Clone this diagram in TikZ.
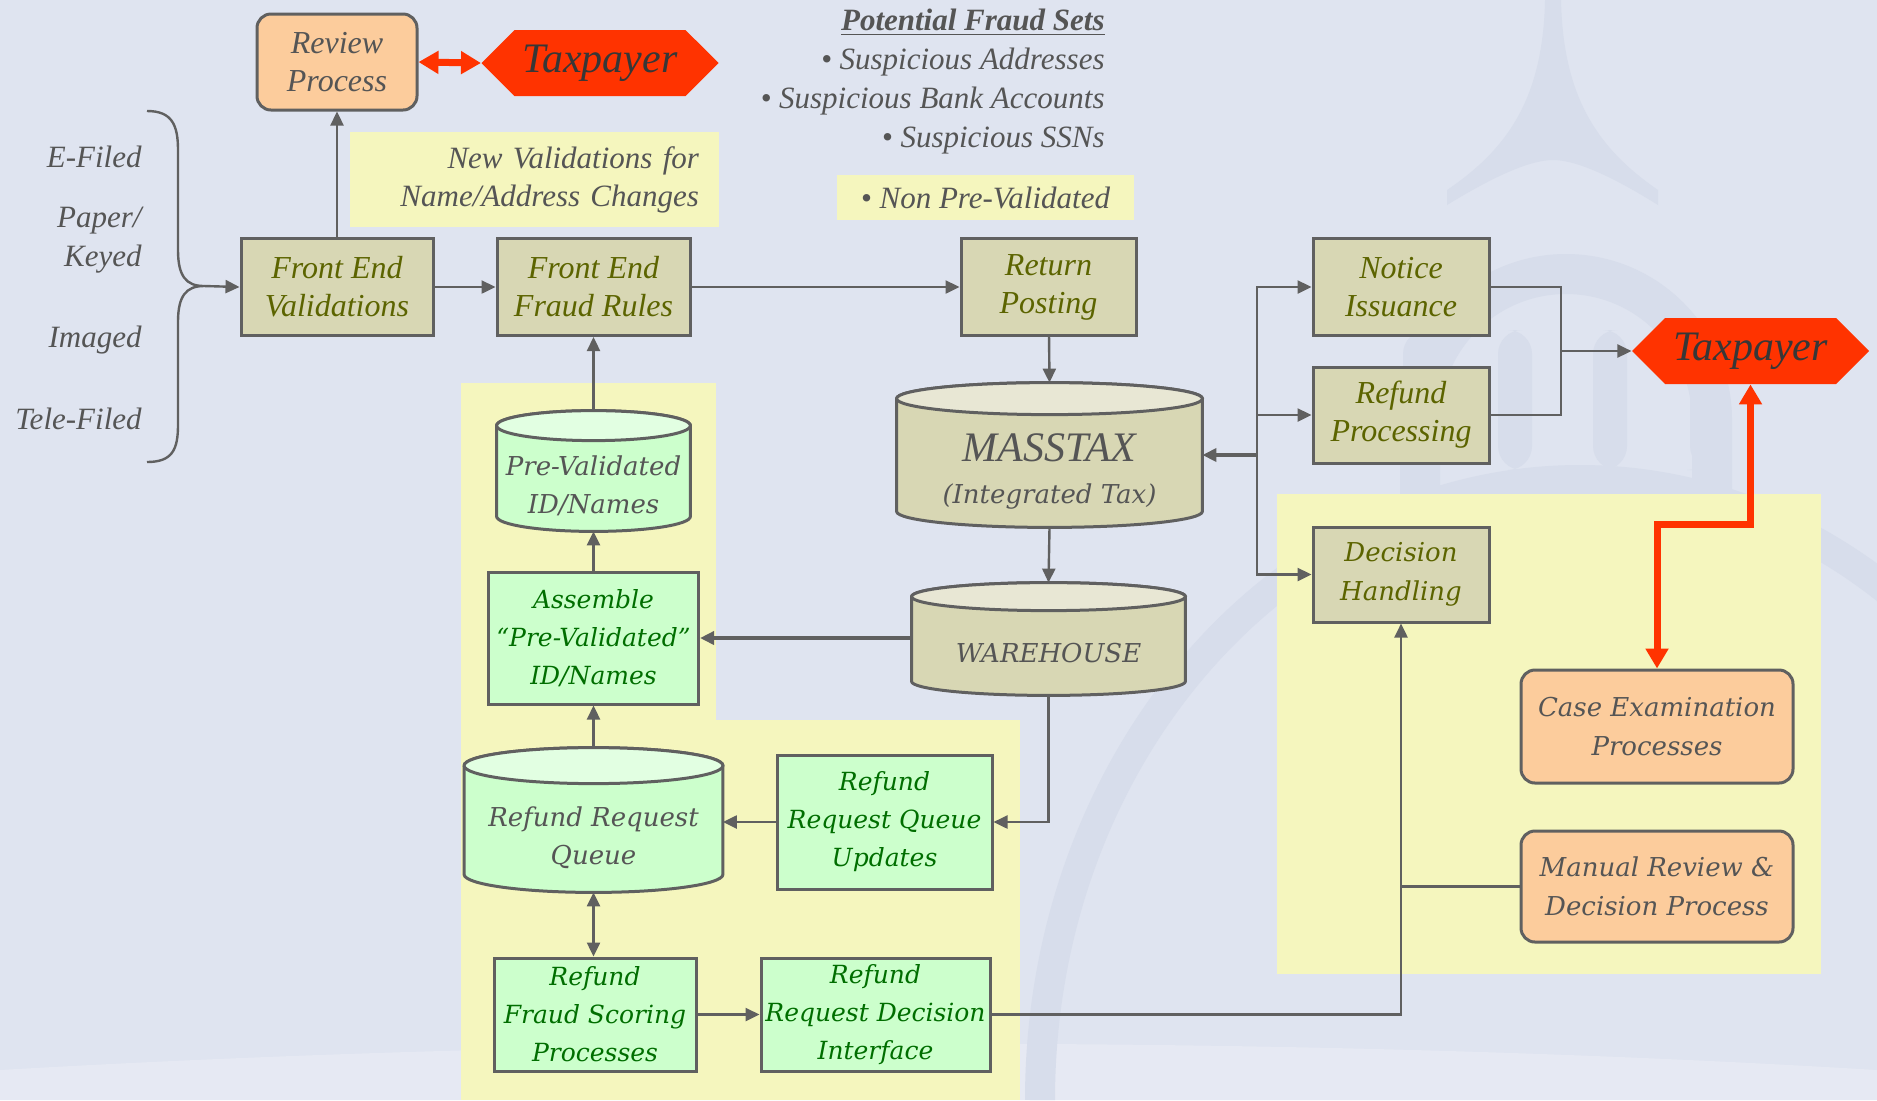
\documentclass[tikz,border=0pt]{standalone}
\usepackage{fontspec}
\setmainfont{Liberation Serif}
\newfontfamily\wide{DejaVu Serif}
\usetikzlibrary{arrows.meta, shapes.symbols, calc}
\pgfdeclarelayer{back}
\pgfdeclarelayer{shapes}
\pgfsetlayers{back,shapes,main}
\definecolor{bgcol}{RGB}{223,228,240}
\definecolor{wmcol}{RGB}{215,221,235}
\definecolor{wmlight}{RGB}{230,233,243}
\definecolor{linegray}{RGB}{96,96,96}
\definecolor{textgray}{RGB}{85,85,85}
\definecolor{olivefill}{RGB}{216,215,180}
\definecolor{olivetop}{RGB}{232,231,212}
\definecolor{olivetext}{RGB}{92,100,0}
\definecolor{greenfill}{RGB}{204,255,204}
\definecolor{greentop}{RGB}{226,255,226}
\definecolor{greentext}{RGB}{0,110,0}
\definecolor{orangefill}{RGB}{252,204,156}
\definecolor{taxred}{RGB}{255,51,0}
\definecolor{yellowfill}{RGB}{245,246,190}
\newcommand{\cylshape}[4]{%
  \begin{pgfonlayer}{shapes}
  \draw[draw=linegray, line width=1.5pt, fill=#3] let \p1=(#1.north west), \p2=(#1.south east), \n1={(\x2-\x1)/2} in
    (\x1,\y1+#2) -- (\x1,\y2+#2) arc[start angle=180, end angle=360, x radius=\n1, y radius=#2]
    -- (\x2,\y1+#2) arc[start angle=0, end angle=180, x radius=\n1, y radius=#2] -- cycle;
  \draw[draw=linegray, line width=1.5pt, fill=#4] let \p1=(#1.north west), \p2=(#1.south east), \n1={(\x2-\x1)/2} in
    (\x1,\y1+#2) arc[start angle=180, end angle=-180, x radius=\n1, y radius=#2];
  \end{pgfonlayer}}
\begin{document}
\begin{tikzpicture}[x=0.5pt, y=0.5pt]
  \tikzstyle{every node}+=[inner sep=0pt]
  \tikzstyle{olivebox}=[draw=linegray, line width=1.5pt, fill=olivefill, text=olivetext, align=center, font=\itshape\fontsize{16}{19}\selectfont]
  \tikzstyle{greenbox}=[draw=linegray, line width=1.5pt, fill=greenfill, text=greentext, align=center, font=\wide\itshape\fontsize{12.5}{19}\selectfont]
  \tikzstyle{orangebox}=[draw=linegray, line width=1.5pt, fill=orangefill, rounded corners=7pt, text=textgray, align=center, font=\itshape\fontsize{16}{19}\selectfont]
  \tikzstyle{cyltext}=[text=textgray, align=center, font=\wide\itshape\fontsize{13}{19}\selectfont]
  \tikzstyle{taxsign}=[signal, signal to=west and east, fill=taxred, text={rgb,255:red,55;green,55;blue,55}, font=\itshape\fontsize{21}{24}\selectfont]
  \tikzstyle{plaintext}=[text=textgray, font=\itshape\fontsize{15.5}{19.5}\selectfont]
  \tikzstyle{yellowbox}=[fill=yellowfill, text=textgray, font=\itshape\fontsize{15.5}{19}\selectfont]
  \tikzstyle{conn}=[draw=linegray, line width=1.2pt]
  \tikzstyle{arr}=[conn, -{Triangle[length=7pt,width=6.5pt]}]
  \tikzstyle{dblarr}=[conn, {Triangle[length=7pt,width=6.5pt]}-{Triangle[length=7pt,width=6.5pt]}]
  \tikzstyle{redarr}=[draw=taxred, line width=3.5pt, {Triangle[length=10pt,width=11pt]}-{Triangle[length=10pt,width=11pt]}]

  \useasboundingbox (0,0) rectangle (1877,-1100);
  \begin{pgfonlayer}{back}
    \fill[bgcol] (0,0) rectangle (1877,-1100);
    \fill[wmlight] (0,-1100) -- (0,-1070) .. controls (600,-1035) and (1300,-1035) .. (1877,-1070) -- (1877,-1100) -- cycle;
    \fill[wmcol] (1545,0) -- (1561,0) .. controls (1563,-100) and (1600,-150) .. (1658,-190) -- (1658,-205) .. controls (1610,-175) and (1575,-160) .. (1553,-160) .. controls (1531,-160) and (1496,-175) .. (1447,-205) -- (1447,-190) .. controls (1506,-150) and (1543,-100) .. cycle;
    \draw[wmcol, line width=20pt] (1420,-540) -- (1420,-420) arc[start angle=180, end angle=0, radius=146] -- (1712,-540);
    \fill[wmcol, rounded corners=12pt] (1403,-470) rectangle (1433,-330);
    \fill[wmcol, rounded corners=12pt] (1498,-470) rectangle (1532,-330);
    \fill[wmcol, rounded corners=12pt] (1593,-470) rectangle (1627,-330);
    \fill[wmcol, rounded corners=12pt] (1690,-470) rectangle (1711,-330);
    \draw[wmcol, line width=15pt] (1040,-1100) arc[start angle=180, end angle=0, x radius=540, y radius=620];
    \fill[yellowfill] (461,-383) rectangle (716,-733);
    \fill[yellowfill] (461,-720) rectangle (1020,-1100);
    \fill[yellowfill] (1277,-494) rectangle (1821,-974);
  \end{pgfonlayer}

  \node[anchor=east, plaintext] (efiled) at (142,-157) {E-Filed};
  \node[anchor=east, plaintext, align=right] (paper) at (142,-240) {Paper/\\Keyed};
  \node[anchor=east, plaintext] (imaged) at (142,-340) {Imaged};
  \node[anchor=east, plaintext] (telefiled) at (142,-419) {Tele-Filed};
  \node[anchor=east, plaintext, align=right] (fraudsets) at (1105,-82) {\textbf{\underline{Potential Fraud Sets}}\\• Suspicious Addresses\\• Suspicious Bank Accounts\\• Suspicious SSNs};
  \node[yellowbox, minimum height=47.5pt, text width=164.5pt, inner xsep=10pt, align=right] (newval) at (534.5,-179.5) {New Validations for\\Name/Address Changes};
  \node[yellowbox, minimum width=148.5pt, minimum height=22.5pt] (nonpre) at (985.5,-197.5) {• Non Pre-Validated};

  \node[orangebox, minimum width=80pt, minimum height=48pt] (review) at (337,-62) {Review\\Process};
  \node[taxsign, minimum width=118.5pt, minimum height=33pt] (taxtop) at (600,-63) {Taxpayer};
  \node[olivebox, minimum width=96pt, minimum height=48.5pt] (fev) at (337,-287) {Front End\\Validations};
  \node[olivebox, minimum width=96.5pt, minimum height=48.5pt] (fefr) at (593.5,-287) {Front End\\Fraud Rules};
  \node[olivebox, minimum width=87.5pt, minimum height=48.5pt] (retpost) at (1048.5,-287) {Return\\Posting};
  \node[olivebox, minimum width=88pt, minimum height=48.5pt] (notice) at (1401,-287) {Notice\\Issuance};
  \node[olivebox, minimum width=88pt, minimum height=48pt] (refproc) at (1401,-415) {Refund\\Processing};
  \node[olivebox, font=\wide\itshape\fontsize{13}{19.5}\selectfont, minimum width=88pt, minimum height=47.5pt] (decision) at (1401,-574.5) {Decision\\Handling};
  \node[taxsign, minimum width=118.5pt, minimum height=33pt] (taxright) at (1750.5,-351) {Taxpayer};
  \node[orangebox, font=\wide\itshape\fontsize{13}{19.5}\selectfont, minimum width=136pt, minimum height=56.5pt] (caseex) at (1657,-726.5) {Case Examination\\Processes};
  \node[orangebox, font=\wide\itshape\fontsize{13}{19.5}\selectfont, minimum width=136pt, minimum height=55.5pt] (manual) at (1657,-886.5) {Manual Review \&\\Decision Process};

  \node[cyltext, minimum width=152.5pt, minimum height=56pt] (masstax) at (1049.5,-471) {{\rmfamily\fontsize{21}{24}\selectfont MASSTAX}\\[2pt](Integrated Tax)};
  \node[cyltext, minimum width=136.5pt, minimum height=42pt] (warehouse) at (1048.5,-653) {WAREHOUSE};
  \node[cyltext, minimum width=96.5pt, minimum height=45pt] (prevalid) at (593.5,-486) {Pre-Validated\\ID/Names};
  \node[cyltext, minimum width=129pt, minimum height=54pt] (rrq) at (593.5,-838) {Refund Request\\Queue};
  \cylshape{masstax}{8pt}{olivefill}{olivetop}
  \cylshape{warehouse}{7pt}{olivefill}{olivetop}
  \cylshape{prevalid}{7.5pt}{greenfill}{greentop}
  \cylshape{rrq}{9pt}{greenfill}{greentop}

  \node[greenbox, minimum width=105pt, minimum height=66pt] (assemble) at (593.5,-638) {Assemble\\“Pre-Validated”\\ID/Names};
  \node[greenbox, minimum width=107.5pt, minimum height=67pt] (rrqu) at (884.5,-822) {Refund\\Request Queue\\Updates};
  \node[greenbox, minimum width=101pt, minimum height=56.5pt] (scoring) at (595,-1014.5) {Refund\\Fraud Scoring\\Processes};
  \node[greenbox, minimum width=114.5pt, minimum height=56.5pt] (rrdi) at (875.5,-1014.5) {Refund\\Request Decision\\Interface};

  \coordinate (bracetip) at (204,-286);
  \draw[conn] (147,-111) .. controls (172,-111) and (178,-125) .. (178,-150) -- (178,-250) .. controls (178,-276) and (186,-286) .. (bracetip) .. controls (186,-286) and (178,-296) .. (178,-322) -- (178,-425) .. controls (178,-450) and (172,-462) .. (147,-462);
  \draw[arr] (bracetip) -- (fev.west);
  \draw[arr] (fev) -- (fefr);
  \draw[arr] (fefr) -- (retpost);
  \draw[arr] (fev) -- (review);
  \draw[arr] ([yshift=15pt]prevalid.north) -- (fefr.south);
  \draw[arr] (assemble.north) -- (prevalid.south);
  \draw[arr] ([yshift=18pt]rrq.north) -- (assemble.south);
  \draw[dblarr] (rrq.south) -- (rrq.south |- scoring.north);
  \draw[arr] (rrqu.west) -- (rrqu.west -| rrq.east);
  \draw[arr] (scoring) -- (rrdi);
  \draw[arr, line width=1.8pt] (warehouse.west |- assemble.east) -- (assemble.east);
  \draw[arr] (warehouse.south) |- (rrqu.east);
  \draw[arr] (retpost) -- ([yshift=16pt]masstax.north);
  \draw[arr] (masstax.south) -- ([yshift=14pt]warehouse.north);
  \coordinate (bus) at (1257,-455);
  \draw[arr, line width=1.8pt] (bus) -- (bus -| masstax.east);
  \draw[arr] (bus) |- (notice.west);
  \draw[arr] (bus) |- (refproc.west);
  \draw[arr] (bus) |- (decision.west);
  \coordinate (join) at (1561,-351);
  \draw[conn] (notice.east) -| (join) |- (refproc.east);
  \draw[arr] (join) -- (taxright.west);
  \draw[arr] (rrdi.east) -| (decision.south);
  \draw[conn] (manual.west) -- (manual.west -| decision.south);
  \draw[redarr] (review.east) -- (taxtop.west);
  \draw[redarr] (taxright.south) -- ++(0,-140) -| (caseex.north);
\end{tikzpicture}
\end{document}
